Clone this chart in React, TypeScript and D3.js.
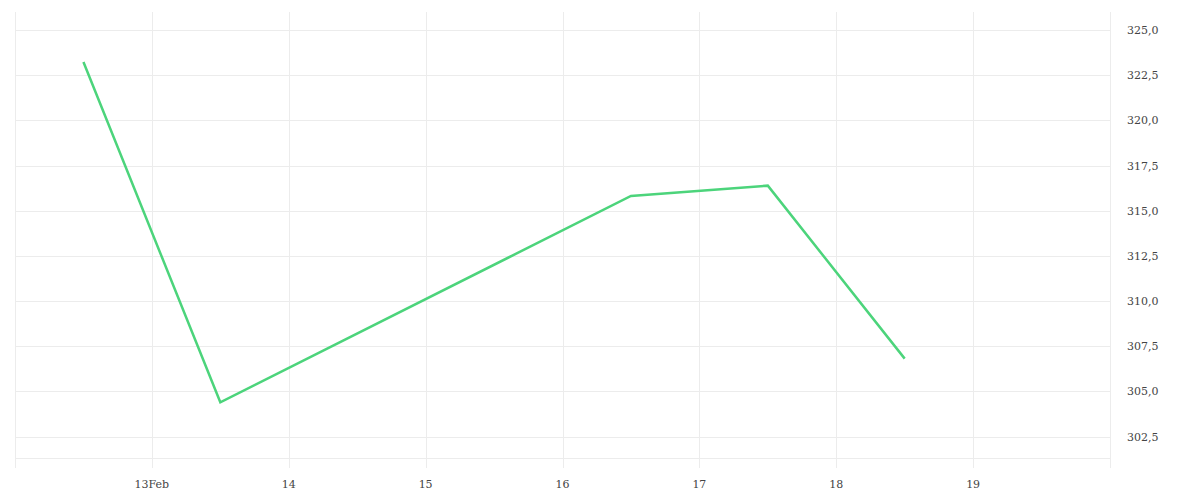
import React, { useRef, useEffect } from 'react';
import * as d3 from 'd3';

// Data
const dates = ['2024-02-12T12:00', '2024-02-13T12:00', '2024-02-16T12:00', '2024-02-17T12:00', '2024-02-18T12:00'];
const values = [323.23, 304.4, 315.82, 316.39, 306.82];
const yTicks = [302.5, 305, 307.5, 310, 312.5, 315, 317.5, 320, 322.5, 325];
const xTickDays = ['2024-02-12', '2024-02-13', '2024-02-14', '2024-02-15', '2024-02-16', '2024-02-17', '2024-02-18', '2024-02-19'];

const App: React.FC = () => {
  const svgRef = useRef<SVGSVGElement>(null);

  useEffect(() => {
    if (!svgRef.current) return;
    d3.select(svgRef.current).selectAll('*').remove();

    const width = 1200;
    const height = 500;
    const left = 15, right = 1110, top = 12, bottom = 458;

    const svg = d3.select(svgRef.current).attr('width', width).attr('height', height);

    const parse = d3.timeParse('%Y-%m-%dT%H:%M');
    const parseDay = d3.timeParse('%Y-%m-%d');
    const points = dates.map((d, i) => ({ date: parse(d) as Date, value: values[i] }));
    const ticks = xTickDays.map(d => parseDay(d) as Date);

    const x = d3.scaleTime()
      .domain([parseDay('2024-02-12') as Date, parseDay('2024-02-20') as Date])
      .range([left, right]);
    const y = d3.scaleLinear().domain([301.32, 326.0]).range([bottom, top]);

    const grid = '#ececec';
    const font = '"DejaVu Serif", serif';

    // Horizontal gridlines
    svg.append('g')
      .selectAll('line')
      .data(yTicks)
      .enter()
      .append('line')
      .attr('x1', left)
      .attr('x2', right)
      .attr('y1', d => Math.round(y(d)) + 0.5)
      .attr('y2', d => Math.round(y(d)) + 0.5)
      .attr('stroke', grid);

    // Bottom border
    svg.append('line')
      .attr('x1', left).attr('x2', right)
      .attr('y1', bottom + 0.5).attr('y2', bottom + 0.5)
      .attr('stroke', grid);

    // Vertical gridlines (extend below as ticks)
    svg.append('g')
      .selectAll('line')
      .data([...ticks, x.domain()[1]])
      .enter()
      .append('line')
      .attr('x1', d => Math.round(x(d)) + 0.5)
      .attr('x2', d => Math.round(x(d)) + 0.5)
      .attr('y1', top)
      .attr('y2', bottom + 10)
      .attr('stroke', grid);

    // X labels (first day sits on the edge, not labelled)
    const fmt = (d: Date) => d.getDate() === 13 ? '13Feb' : String(d.getDate());
    svg.append('g')
      .selectAll('text')
      .data(ticks.slice(1))
      .enter()
      .append('text')
      .attr('x', d => x(d))
      .attr('y', 488)
      .attr('text-anchor', 'middle')
      .style('font-family', font)
      .style('font-size', '11px')
      .style('fill', '#444')
      .text(fmt);

    // Y labels on the right
    svg.append('g')
      .selectAll('text')
      .data(yTicks)
      .enter()
      .append('text')
      .attr('x', 1127)
      .attr('y', d => y(d) + 4)
      .style('font-family', font)
      .style('font-size', '11px')
      .style('fill', '#444')
      .text(d => d.toFixed(1).replace('.', ','));

    // Line
    const line = d3.line<{ date: Date; value: number }>()
      .x(d => x(d.date))
      .y(d => y(d.value));

    svg.append('path')
      .datum(points)
      .attr('d', line)
      .attr('fill', 'none')
      .attr('stroke', '#4cd47b')
      .attr('stroke-width', 2.5);
  }, []);

  return (
    <div style={{ position: 'absolute', left: 0, top: 0 }}>
      <svg ref={svgRef} style={{ display: 'block', background: '#fff' }}></svg>
    </div>
  );
};

export default App;
